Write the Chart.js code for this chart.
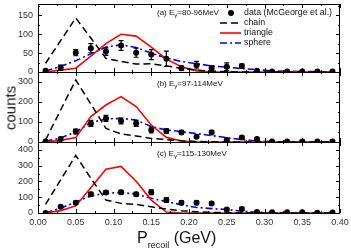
<!DOCTYPE html>
<html>
<head>
<meta charset="utf-8">
<script src="https://cdn.jsdelivr.net/npm/chart.js@4"></script>
<style>
  body { margin: 0; background: #fff; }
  #wrap { position: relative; width: 351px; height: 250px; overflow: hidden; font-family: "Liberation Sans", Arial, sans-serif; }
  canvas { position: absolute; left: 0; top: 0; }
  .t { position: absolute; white-space: nowrap; color: #111; line-height: 1; }
  .sub { position: relative; top: 2px; font-size: 6px; }
</style>
</head>
<body>
<div id="wrap">
  <canvas id="ca" width="351" height="250"></canvas>
  <canvas id="cb" width="351" height="250"></canvas>
  <canvas id="cc" width="351" height="250"></canvas>

  <div class="t" style="left:157px;top:9px;font-size:8px">(a) E<span class="sub">γ</span>=80-96MeV</div>
  <div class="t" style="left:157px;top:80px;font-size:8px">(b) E<span class="sub">γ</span>=97-114MeV</div>
  <div class="t" style="left:157px;top:150px;font-size:8px">(c) E<span class="sub">γ</span>=115-130MeV</div>

  <svg style="position:absolute;left:0;top:0" width="351" height="60">
    <circle cx="231" cy="13" r="3" fill="#000"/>
    <line x1="220" y1="23" x2="241" y2="23" stroke="#000" stroke-width="1.5" stroke-dasharray="7 4"/>
    <line x1="220" y1="33" x2="241" y2="33" stroke="#ff0000" stroke-width="1.6"/>
    <line x1="220" y1="43" x2="241" y2="43" stroke="#0000ff" stroke-width="1.6" stroke-dasharray="7 3 2 3"/>
  </svg>
  <div class="t" style="left:244px;top:8px;font-size:8.8px">data (McGeorge et al.)</div>
  <div class="t" style="left:244px;top:18px;font-size:8.8px">chain</div>
  <div class="t" style="left:244px;top:28px;font-size:8.8px">triangle</div>
  <div class="t" style="left:244px;top:38px;font-size:8.8px">sphere</div>

  <div class="t" style="left:10px;top:108px;font-size:15px;transform:translate(-50%,-50%) rotate(-90deg)">counts</div>
  <div class="t" style="left:137px;top:230px;font-size:16px">P<span style="position:relative;top:5px;font-size:9px">recoil</span> (GeV)</div>
</div>

<script>
// P_recoil bins (GeV), same for all three panels
const pRecoil = [0.01, 0.03, 0.05, 0.07, 0.09, 0.11, 0.13, 0.15, 0.17, 0.19,
                 0.21, 0.23, 0.25, 0.27, 0.29, 0.31, 0.33, 0.35, 0.37, 0.39];

// (a) E=80-96MeV
const dataA  = [3, 11, 51, 63, 54, 70, 51, 46, 35, 10, 18, 10, 14, 16, 3, 1, 1, 1, 1, 1];
const errA   = [2, 7, 8, 12, 10, 13, 12, 13, 20, 6, 10, 6, 10, 5, 2, 1, 1, 1, 1, 1];
const chainA = [23, 83, 143, 90, 36, 28, 21, 22, 16, 10, 5, 2, 1, 0, 0, 0, 0, 0, 0, 0];
const triA   = [0, 5, 10, 42, 75, 100, 95, 66, 34, 14, 3, 0, 0, 0, 0, 0, 0, 0, 0, 0];
const sphA   = [2, 15, 30, 48, 66, 72, 65, 50, 37, 28, 22, 16, 13, 9, 6, 3, 2, 1, 1, 0];

// (b) E=97-114MeV
const dataB  = [2, 15, 52, 93, 118, 105, 93, 60, 55, 48, 26, 48, 10, 23, 15, 3, 2, 3, 2, 2];
const errB   = [2, 8, 12, 15, 15, 15, 15, 15, 12, 10, 8, 10, 5, 6, 5, 2, 2, 2, 2, 2];
const chainB = [10, 160, 310, 190, 68, 40, 30, 18, 12, 6, 3, 1, 0, 0, 0, 0, 0, 0, 0, 0];
const triB   = [0, 8, 22, 127, 185, 227, 177, 85, 23, 5, 0, 0, 0, 0, 0, 0, 0, 0, 0, 0];
const sphB   = [3, 20, 50, 97, 115, 118, 110, 77, 60, 52, 42, 32, 22, 12, 5, 2, 1, 1, 0, 0];

// (c) E=115-130MeV
const dataC  = [0, 39, 65, 119, 130, 132, 119, 132, 82, 65, 65, 61, 22, 26, 6, 5, 4, 4, 2, 3];
const errC   = [3, 8, 10, 12, 12, 12, 12, 15, 15, 12, 12, 12, 8, 10, 5, 3, 3, 3, 3, 3];
const chainC = [55, 210, 365, 220, 82, 61, 55, 39, 25, 15, 8, 4, 2, 0, 0, 0, 0, 0, 0, 0];
const triC   = [0, 15, 45, 160, 277, 295, 201, 82, 6, 0, 0, 0, 0, 0, 0, 0, 0, 0, 0, 0];
const sphC   = [2, 30, 70, 108, 126, 130, 120, 93, 72, 52, 35, 28, 22, 12, 5, 2, 1, 0, 0, 0];

const tickFont = { family: "'Liberation Sans', Arial, sans-serif", size: 9 };
const pts = ys => pRecoil.map((x, i) => ({ x: x, y: ys[i] }));

// box round the plot area + small inward ticks on all four sides
const framePlugin = {
  id: 'frame',
  afterDraw(chart) {
    const { ctx, chartArea: a, scales: { x, y } } = chart;
    ctx.save();
    ctx.strokeStyle = '#000';
    ctx.lineWidth = 1;
    ctx.strokeRect(a.left + 0.5, a.top + 0.5, a.width - 1, a.height);
    ctx.beginPath();
    const xStep = 0.05;
    for (let v = 0; v <= x.max + 1e-9; v += xStep / 2) {
      const px = Math.round(x.getPixelForValue(v)) + 0.5;
      const len = Math.abs(v / xStep - Math.round(v / xStep)) < 1e-6 ? 4 : 2;
      ctx.moveTo(px, a.bottom); ctx.lineTo(px, a.bottom - len);
      ctx.moveTo(px, a.top); ctx.lineTo(px, a.top + len);
    }
    const ys = y.ticks.map(t => t.value);
    const yStep = ys[1] - ys[0];
    for (let v = 0; v <= y.max + 1e-9; v += yStep / 2) {
      const py = Math.round(y.getPixelForValue(v)) + 0.5;
      const len = Math.abs(v / yStep - Math.round(v / yStep)) < 1e-6 ? 4 : 2;
      ctx.moveTo(a.left, py); ctx.lineTo(a.left + len, py);
      ctx.moveTo(a.right, py); ctx.lineTo(a.right - len, py);
    }
    ctx.stroke();
    ctx.restore();
  }
};

// vertical error bars with caps on the data set
const errorPlugin = {
  id: 'errbars',
  afterDatasetsDraw(chart, args, opts) {
    const { ctx, scales: { x, y } } = chart;
    const vals = opts.values, errs = opts.errors;
    ctx.save();
    ctx.strokeStyle = '#000';
    ctx.lineWidth = 1.2;
    ctx.beginPath();
    vals.forEach((v, i) => {
      const px = x.getPixelForValue(pRecoil[i]);
      const top = y.getPixelForValue(v + errs[i]);
      const bot = y.getPixelForValue(Math.max(0, v - errs[i]));
      ctx.moveTo(px, top); ctx.lineTo(px, bot);
      ctx.moveTo(px - 2.5, top); ctx.lineTo(px + 2.5, top);
      ctx.moveTo(px - 2.5, bot); ctx.lineTo(px + 2.5, bot);
    });
    ctx.stroke();
    ctx.restore();
  }
};

function makePanel(id, cfg) {
  const ctx = document.getElementById(id).getContext('2d');
  return new Chart(ctx, {
    type: 'line',
    data: {
      datasets: [
        { label: 'data (McGeorge et al.)', data: pts(cfg.data), showLine: false,
          pointRadius: 3, pointBackgroundColor: '#000', pointBorderColor: '#000', pointBorderWidth: 0 },
        { label: 'chain', data: pts(cfg.chain), borderColor: '#000', borderWidth: 1.5,
          borderDash: [7, 4], pointRadius: 0, tension: 0 },
        { label: 'triangle', data: pts(cfg.tri), borderColor: '#ff0000', borderWidth: 1.6,
          pointRadius: 0, tension: 0 },
        { label: 'sphere', data: pts(cfg.sph), borderColor: '#0000ff', borderWidth: 1.6,
          borderDash: [7, 3, 2, 3], pointRadius: 0, tension: 0 }
      ]
    },
    plugins: [framePlugin, errorPlugin],
    options: {
      responsive: false,
      animation: false,
      layout: { padding: { top: cfg.top, bottom: cfg.padBottom, left: 0, right: 11 } },
      scales: {
        x: {
          type: 'linear', min: 0, max: 0.4, display: cfg.showX,
          afterFit: s => {
            if (cfg.showX) s.height = 20;
            s.paddingLeft = 0; s.paddingRight = 0;
          },
          grid: { display: false, drawTicks: false }, border: { display: false },
          ticks: { stepSize: 0.05, padding: 4, color: '#333', font: tickFont,
                   maxRotation: 0, autoSkip: false, callback: v => v.toFixed(2) }
        },
        y: {
          min: 0, max: cfg.yMax,
          afterFit: s => { s.width = 38; s.paddingTop = 0; s.paddingBottom = 0; },
          grid: { display: false, drawTicks: false }, border: { display: false },
          ticks: { stepSize: cfg.yStep, includeBounds: false, padding: 5, color: '#333', font: tickFont }
        }
      },
      plugins: {
        legend: { display: false },
        tooltip: { enabled: false },
        errbars: { values: cfg.data, errors: cfg.err }
      }
    }
  });
}

const chartA = makePanel('ca', { top: 3, padBottom: 250 - 72, yMax: 180, yStep: 50, showX: false,
  data: dataA, err: errA, chain: chainA, tri: triA, sph: sphA });
const chartB = makePanel('cb', { top: 72, padBottom: 250 - 142, yMax: 350, yStep: 100, showX: false,
  data: dataB, err: errB, chain: chainB, tri: triB, sph: sphB });
const chartC = makePanel('cc', { top: 142, padBottom: 250 - 213 - 20, yMax: 450, yStep: 100, showX: true,
  data: dataC, err: errC, chain: chainC, tri: triC, sph: sphC });
</script>
</body>
</html>
